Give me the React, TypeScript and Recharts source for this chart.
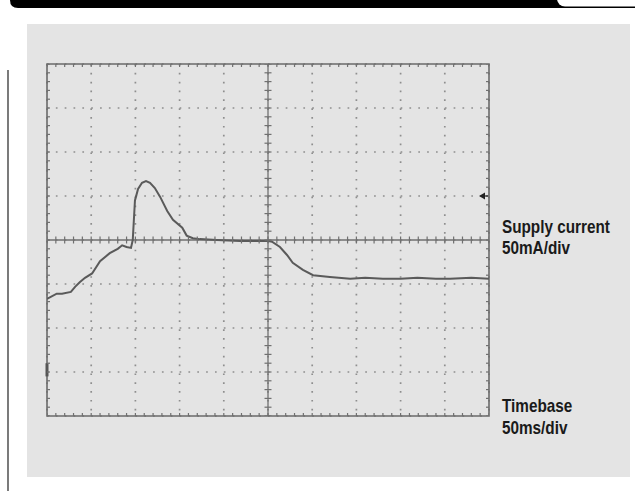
import React from 'react';
import {
  ComposedChart,
  Line,
  Scatter,
  XAxis,
  YAxis,
  CartesianGrid,
  ReferenceLine,
  ReferenceArea,
  ReferenceDot,
} from 'recharts';

// supply current trace, 50 ms/div and 50 mA/div, 0 mA on the centre line
const timeMs = [
  0, 11, 17, 27, 32, 37, 43, 51, 60, 71, 80, 85, 90, 95, 97, 99.5, 103, 107.5, 112, 116.5, 122, 128, 136,
  142.5, 153, 158, 165, 173, 192, 218, 249, 254.5, 263.5, 271.5, 278, 289.5, 301, 320, 343, 360, 380, 400,
  419, 440, 456, 480, 500,
];
const currentMa = [
  -67, -61, -61, -59, -53, -48, -43, -38, -24, -15, -10, -6, -8, -9, 0, 45, 58, 65, 67, 65, 59, 49, 33,
  23, 14, 5, 2, 1, 0, -1, -1, -2, -8, -17, -26, -34, -40, -42, -44, -43, -44, -44, -43, -44, -44, -43, -44,
];

const timeTicks = [0, 50, 100, 150, 200, 250, 300, 350, 400, 450, 500];
const currentTicks = [-200, -150, -100, -50, 0, 50, 100, 150, 200];
const triggerLevel = 50;

const trace = timeMs.map((t, k) => ({ t, v: currentMa[k] }));

// graticule minor marks, five per division
const minorT = Array.from({ length: 51 }, (_, k) => k * 10);
const minorI = Array.from({ length: 41 }, (_, k) => -200 + k * 10);
const centreH = minorT.map((t) => ({ t, v: 0 }));
const centreV = minorI.map((v) => ({ t: 250, v }));
const topEdge = minorT.map((t) => ({ t, v: 200 }));
const bottomEdge = minorT.map((t) => ({ t, v: -200 }));
const leftEdge = minorI.map((v) => ({ t: 0, v }));
const rightEdge = minorI.map((v) => ({ t: 500, v }));

const tickColor = '#707070';

const vTick = (up: number, down: number) => (p: any) => (
  <line x1={p.cx} x2={p.cx} y1={p.cy - up} y2={p.cy + down} stroke={tickColor} strokeWidth={1.2} />
);
const hTick = (left: number, right: number) => (p: any) => (
  <line x1={p.cx - left} x2={p.cx + right} y1={p.cy} y2={p.cy} stroke={tickColor} strokeWidth={1.2} />
);

const TriggerArrow = (p: any) => (
  <g>
    <path d={`M${p.cx - 10},${p.cy} L${p.cx - 4},${p.cy - 3.5} L${p.cx - 4},${p.cy + 3.5} Z`} fill="#222" />
    <line x1={p.cx - 5} x2={p.cx - 1} y1={p.cy} y2={p.cy} stroke="#222" strokeWidth={1.2} />
  </g>
);

// condensed bold caption, squeezed horizontally
const Caption = ({ y, children }: { y: number; children: React.ReactNode }) => (
  <text
    transform={`translate(502 ${y}) scale(0.85 1)`}
    fontFamily="'Liberation Sans', Arial, sans-serif"
    fontWeight="bold"
    fontSize={18}
    fill="#1a1a1a"
  >
    {children}
  </text>
);

export default function App() {
  return (
    <div style={{ position: 'absolute', left: 0, top: 0, width: 635, height: 491, background: '#fff', overflow: 'hidden' }}>
      <svg width={635} height={491} style={{ position: 'absolute', left: 0, top: 0 }}>
        <path d="M10,0 L635,0 L635,8 L18,8 Q10,8 10,0 Z" fill="#000" />
        <rect x={557} y={-12} width={90} height={18.5} rx={8} fill="#fff" />
        <line x1={8} x2={8} y1={70} y2={491} stroke="#222" strokeWidth={1.2} />
        <rect x={27} y={24} width={603} height={453} fill="#e4e4e4" />
      </svg>

      <div style={{ position: 'absolute', left: 0, top: 0 }}>
        <ComposedChart width={635} height={491} margin={{ top: 64, right: 146, bottom: 75, left: 47 }}>
          <XAxis type="number" dataKey="t" domain={[0, 500]} ticks={timeTicks} interval={0} hide allowDataOverflow />
          <YAxis type="number" dataKey="v" domain={[-200, 200]} ticks={currentTicks} interval={0} hide allowDataOverflow />
          <CartesianGrid stroke="#8e8e8e" strokeWidth={1.7} strokeDasharray="1.7 7.14" />
          <ReferenceLine y={0} stroke={tickColor} strokeWidth={1.3} />
          <ReferenceLine x={250} stroke={tickColor} strokeWidth={1.3} />
          <ReferenceLine segment={[{ x: 0, y: -140 }, { x: 0, y: -155 }]} stroke="#555" strokeWidth={3} />
          <Scatter data={centreH} dataKey="v" shape={vTick(3.5, 3.5)} isAnimationActive={false} />
          <Scatter data={centreV} dataKey="v" shape={hTick(3.5, 3.5)} isAnimationActive={false} />
          <Scatter data={topEdge} dataKey="v" shape={vTick(0, 3)} isAnimationActive={false} />
          <Scatter data={bottomEdge} dataKey="v" shape={vTick(3, 0)} isAnimationActive={false} />
          <Scatter data={leftEdge} dataKey="v" shape={hTick(0, 3)} isAnimationActive={false} />
          <Scatter data={rightEdge} dataKey="v" shape={hTick(3, 0)} isAnimationActive={false} />
          <ReferenceArea x1={0} x2={500} y1={-200} y2={200} fill="none" stroke="#6a6a6a" strokeWidth={1.6} />
          <Line
            data={trace}
            dataKey="v"
            type="linear"
            stroke="#5a5a5a"
            strokeWidth={2}
            dot={false}
            isAnimationActive={false}
          />
          <ReferenceDot x={500} y={triggerLevel} r={0} shape={TriggerArrow} />
        </ComposedChart>
      </div>

      <svg width={635} height={491} style={{ position: 'absolute', left: 0, top: 0, pointerEvents: 'none' }}>
        <Caption y={232.5}>Supply current</Caption>
        <Caption y={253.5}>50mA/div</Caption>
        <Caption y={411.5}>Timebase</Caption>
        <Caption y={433.5}>50ms/div</Caption>
      </svg>
    </div>
  );
}
